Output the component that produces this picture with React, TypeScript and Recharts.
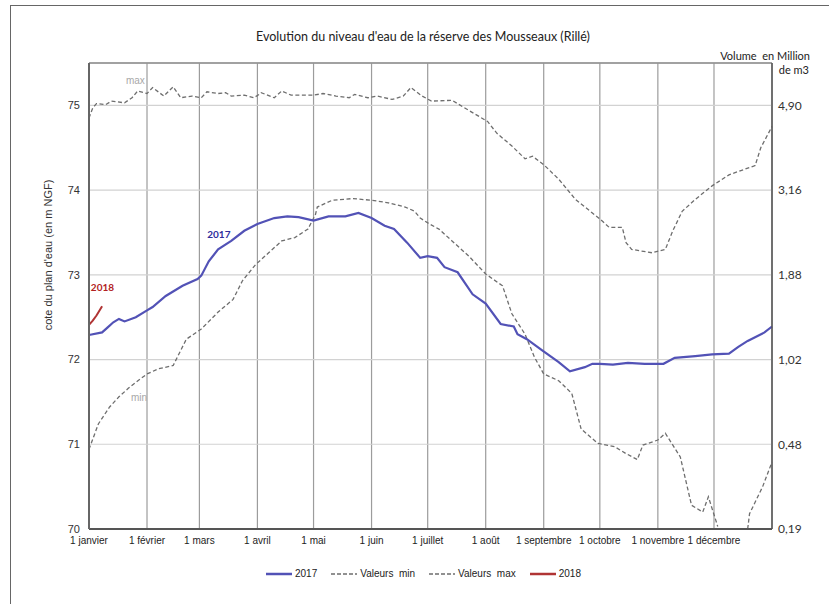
import React from 'react';
import { LineChart, Line, XAxis, YAxis, CartesianGrid, ReferenceLine, ReferenceDot } from 'recharts';

const monthTicks = [0, 31, 59, 90, 120, 151, 181, 212, 243, 273, 304, 334];
const monthLabels = ['1 janvier', '1 février', '1 mars', '1 avril', '1 mai', '1 juin', '1 juillet', '1 août', '1 septembre', '1 octobre', '1 novembre', '1 décembre'];
const levelTicks = [70, 71, 72, 73, 74, 75];
const volumeLabels = ['0,19', '0,48', '1,02', '1,88', '3,16', '4,90'];

const days2017 = [0, 7, 10, 13, 16, 19, 25, 31, 34, 41, 50, 58, 60, 64, 69, 76, 83, 90, 99, 106, 112, 120, 128, 137, 144, 151, 158, 163, 170, 177, 181, 186, 190, 197, 205, 212, 220, 227, 229, 234, 242, 251, 257, 265, 269, 273, 280, 288, 297, 307, 313, 324, 333, 342, 347, 352, 361, 365];
const level2017 = [72.29, 72.32, 72.38, 72.44, 72.48, 72.45, 72.5, 72.58, 72.62, 72.75, 72.87, 72.95, 72.99, 73.16, 73.3, 73.4, 73.52, 73.6, 73.67, 73.69, 73.68, 73.64, 73.69, 73.69, 73.73, 73.67, 73.58, 73.54, 73.38, 73.2, 73.22, 73.2, 73.09, 73.03, 72.77, 72.66, 72.42, 72.39, 72.3, 72.24, 72.11, 71.97, 71.86, 71.91, 71.95, 71.95, 71.94, 71.96, 71.95, 71.95, 72.02, 72.04, 72.06, 72.07, 72.15, 72.22, 72.32, 72.39];

const days2018 = [0, 2, 4, 7];
const level2018 = [72.41, 72.46, 72.52, 72.63];

const daysMax = [0, 2, 4, 9, 12, 19, 23, 26, 31, 34, 40, 45, 49, 55, 60, 63, 69, 73, 76, 83, 88, 91, 92, 99, 103, 108, 120, 125, 132, 139, 142, 149, 154, 162, 168, 172, 178, 183, 194, 203, 213, 218, 226, 233, 237, 243, 251, 260, 269, 273, 278, 285, 287, 290, 301, 308, 312, 317, 324, 333, 342, 356, 359, 365];
const levelMax = [74.85, 74.97, 75.02, 75.01, 75.05, 75.03, 75.09, 75.17, 75.14, 75.21, 75.11, 75.22, 75.09, 75.11, 75.09, 75.16, 75.14, 75.15, 75.11, 75.12, 75.09, 75.13, 75.15, 75.09, 75.17, 75.12, 75.12, 75.14, 75.11, 75.09, 75.13, 75.09, 75.11, 75.07, 75.11, 75.21, 75.11, 75.05, 75.06, 74.94, 74.81, 74.67, 74.52, 74.37, 74.4, 74.3, 74.13, 73.89, 73.73, 73.66, 73.56, 73.56, 73.38, 73.3, 73.26, 73.3, 73.52, 73.75, 73.89, 74.05, 74.18, 74.29, 74.5, 74.75];

const daysMin = [0, 5, 11, 16, 21, 25, 31, 37, 45, 52, 60, 69, 77, 82, 89, 96, 103, 110, 117, 121, 122, 130, 141, 151, 160, 169, 174, 177, 182, 187, 194, 203, 212, 221, 226, 233, 238, 243, 251, 258, 263, 272, 281, 287, 293, 296, 304, 308, 316, 322, 328, 331, 336, 340, 348, 352, 353, 360, 365];
const levelMin = [70.94, 71.24, 71.44, 71.56, 71.66, 71.73, 71.83, 71.89, 71.93, 72.24, 72.36, 72.56, 72.71, 72.93, 73.12, 73.26, 73.4, 73.44, 73.54, 73.71, 73.8, 73.88, 73.9, 73.88, 73.85, 73.8, 73.75, 73.67, 73.6, 73.54, 73.4, 73.22, 73.01, 72.87, 72.54, 72.3, 72.03, 71.83, 71.75, 71.6, 71.18, 71.01, 70.97, 70.89, 70.82, 70.99, 71.05, 71.13, 70.85, 70.28, 70.2, 70.38, 70.03, null, null, 70.0, 70.18, 70.5, 70.79];

const toPoints = (days: number[], vals: (number | null)[]) => days.map((d, i) => ({ d, v: vals[i] }));

const s2017 = toPoints(days2017, level2017);
const s2018 = toPoints(days2018, level2018);
const sMax = toPoints(daysMax, levelMax);
const sMin = toPoints(daysMin, levelMin);

const BLUE = '#5252b6';
const RED = '#b03434';
const DASH = '#6e6e6e';

const calibri = 'Lato, "Open Sans", sans-serif';
const arial = '"Liberation Sans", Arial, sans-serif';

const annot = (text: string, color: string, bold: boolean) => (props: any) => {
  const vb = props.viewBox || {};
  const cx = (vb.x || 0) + (vb.width || 0) / 2;
  const cy = (vb.y || 0) + (vb.height || 0) / 2;
  return (
    <text x={cx} y={cy} textAnchor="middle" dominantBaseline="central" fill={color} fontSize={10} fontWeight={bold ? 700 : 400} fontFamily={bold ? calibri : arial}>
      {text}
    </text>
  );
};

const LegendItem = ({ color, dashed, label, width }: { color: string; dashed: boolean; label: string; width: number }) => (
  <div style={{ display: 'flex', alignItems: 'center', marginRight: 14 }}>
    <svg width={width} height={6} style={{ marginRight: 3 }}>
      <line x1={0} y1={3} x2={width} y2={3} stroke={color} strokeWidth={dashed ? 1.3 : 2.5} strokeDasharray={dashed ? '4 2' : undefined} />
    </svg>
    <span style={{ whiteSpace: 'pre' }}>{label}</span>
  </div>
);

export default function App() {
  return (
    <div style={{ position: 'absolute', left: 0, top: 0, width: 829, height: 604, overflow: 'hidden', background: '#fff' }}>
      <div style={{ position: 'absolute', left: 10, top: 5, width: 900, height: 700, borderLeft: '1.5px solid #666', borderTop: '1.5px solid #666' }} />
      <div style={{ position: 'absolute', left: 423, top: 29, transform: 'translateX(-50%)', whiteSpace: 'nowrap', fontFamily: calibri, fontSize: 12.5, color: '#222' }}>
        Evolution du niveau d'eau de la réserve des Mousseaux (Rillé)
      </div>
      <div style={{ position: 'absolute', left: 0, top: 0 }}>
        <LineChart width={829} height={604} margin={{ top: 63, right: 12, left: 49, bottom: 45 }}>
          <CartesianGrid horizontal={false} stroke="#9c9c9c" strokeWidth={1.2} verticalPoints={undefined} />
          <CartesianGrid vertical={false} stroke="#d2d2d2" strokeWidth={1.2} />
          <XAxis
            dataKey="d"
            type="number"
            domain={[0, 365]}
            ticks={monthTicks}
            interval={0}
            tickFormatter={(v: number) => monthLabels[monthTicks.indexOf(v)] ?? ''}
            tickLine={false}
            tickSize={0}
            tickMargin={8}
            axisLine={{ stroke: '#555', strokeWidth: 2 }}
            tick={{ fontSize: 10, fill: '#222', fontFamily: arial }}
            height={30}
            allowDuplicatedCategory={false}
          />
          <YAxis
            type="number"
            domain={[70, 75.5]}
            ticks={levelTicks}
            allowDataOverflow
            width={40}
            tickLine={false}
            tickSize={0}
            tickMargin={9}
            axisLine={{ stroke: '#666', strokeWidth: 2 }}
            tick={{ fontSize: 11, fill: '#333', fontFamily: arial }}
            label={{
              content: () => (
                <text transform="translate(48,255) rotate(-90)" textAnchor="middle" dominantBaseline="central" fontSize={11} fill="#333" fontFamily={arial}>
                  cote du plan d'eau (en m NGF)
                </text>
              ),
            }}
          />
          <YAxis
            yAxisId="right"
            orientation="right"
            type="number"
            domain={[70, 75.5]}
            ticks={levelTicks}
            allowDataOverflow
            width={45}
            tickLine={false}
            tickSize={0}
            tickMargin={6}
            axisLine={{ stroke: '#555', strokeWidth: 1.5 }}
            tick={{ fontSize: 12, fill: '#333', fontFamily: calibri, textAnchor: 'start' }}
            tickFormatter={(v: number) => volumeLabels[levelTicks.indexOf(v)] ?? ''}
            label={{
              content: () => (
                <g fontFamily={calibri} fontSize={11} fill="#222">
                  <text x={810} y={55} textAnchor="end" dominantBaseline="central" style={{ whiteSpace: 'pre' }}>{'Volume  en Million'}</text>
                  <text x={809} y={69} textAnchor="end" dominantBaseline="central">de m3</text>
                </g>
              ),
            }}
          />
          <ReferenceLine y={75.5} stroke="#8a8a8a" strokeWidth={1.5} />
          <Line data={sMax} dataKey="v" type="linear" stroke={DASH} strokeWidth={1.3} strokeDasharray="4 2.5" dot={false} isAnimationActive={false} connectNulls={false} />
          <Line data={sMin} dataKey="v" type="linear" stroke={DASH} strokeWidth={1.3} strokeDasharray="4 2.5" dot={false} isAnimationActive={false} connectNulls={false} />
          <Line data={s2017} dataKey="v" type="linear" stroke={BLUE} strokeWidth={2.2} dot={false} isAnimationActive={false} />
          <Line data={s2018} dataKey="v" type="linear" stroke={RED} strokeWidth={2} dot={false} isAnimationActive={false} />
          <ReferenceDot x={24.8} y={75.29} r={0} stroke="none" label={{ content: annot('max', '#a8a8a8', false) }} />
          <ReferenceDot x={26.7} y={71.55} r={0} stroke="none" label={{ content: annot('min', '#a8a8a8', false) }} />
          <ReferenceDot x={69.4} y={73.48} r={0} stroke="none" label={{ content: annot('2017', '#2e2e9c', true) }} />
          <ReferenceDot x={7.2} y={72.86} r={0} stroke="none" label={{ content: annot('2018', '#b22222', true) }} />
        </LineChart>
      </div>
      <div style={{ position: 'absolute', left: 266, top: 567, display: 'flex', fontFamily: arial, fontSize: 10, color: '#222', lineHeight: '14px' }}>
        <LegendItem color={BLUE} dashed={false} label="2017" width={26} />
        <LegendItem color={DASH} dashed={true} label="Valeurs  min" width={26} />
        <LegendItem color={DASH} dashed={true} label="Valeurs  max" width={26} />
        <LegendItem color={RED} dashed={false} label="2018" width={26} />
      </div>
    </div>
  );
}
